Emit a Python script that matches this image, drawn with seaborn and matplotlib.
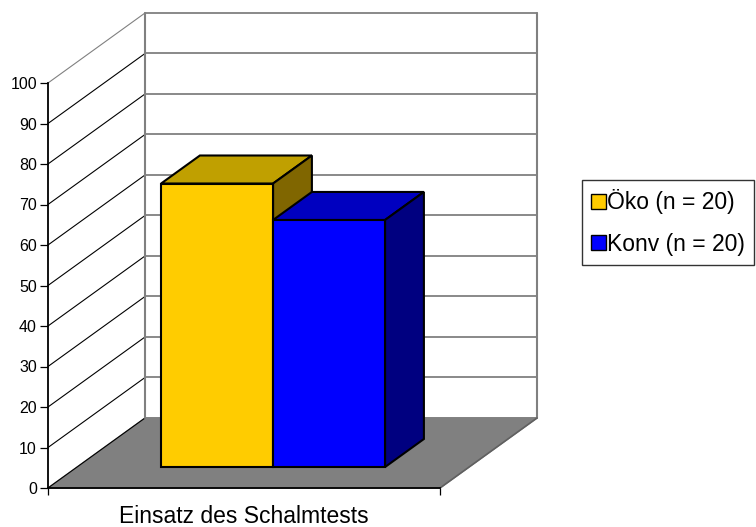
import numpy as np
import pandas as pd
import matplotlib
matplotlib.use("Agg")
import matplotlib.pyplot as plt
from matplotlib.patches import Polygon, Patch
import seaborn as sns

# data
categories = ["Einsatz des Schalmtests"]
groups = ["Öko (n = 20)", "Konv (n = 20)"]
values = [70, 61]
yticks = list(range(0, 101, 10))

front_colors = ["#FFCC00", "#0000FF"]
top_colors = ["#C0A000", "#0000C0"]
side_colors = ["#806600", "#000080"]

df = pd.DataFrame({"Einsatz": categories * len(groups), "Gruppe": groups, "Prozent": values})

sns.set_theme(style="white")
plt.rcParams["font.family"] = ["Liberation Sans", "DejaVu Sans"]
plt.rcParams["text.color"] = "black"
plt.rcParams["xtick.color"] = "black"
plt.rcParams["ytick.color"] = "black"
plt.rcParams["axes.labelcolor"] = "black"

fig = plt.figure(figsize=(7.56, 5.27), dpi=100)
ax = fig.add_axes([48 / 756, 39 / 527, 392 / 756, 405 / 527])

sns.barplot(data=df, x="Einsatz", y="Prozent", hue="Gruppe", palette=front_colors,
            saturation=1, edgecolor="black", linewidth=1.5, width=0.8, legend=False, ax=ax)

x0, x1 = -0.7, 0.7
ax.set_xlim(x0, x1)
ax.set_ylim(0, 100)
fig.canvas.draw()

# 3d depth in pixels -> data units
p0 = ax.transData.transform((0, 0))
p1 = ax.transData.transform((1, 1))
sx, sy = p1[0] - p0[0], p1[1] - p0[1]
DX, DY = 97 / sx, 70 / sy

# floor
ax.add_patch(Polygon([(x0, 0), (x1, 0), (x1 + DX, DY), (x0 + DX, DY)], closed=True,
                     facecolor="#808080", edgecolor="#808080", lw=1, zorder=1, clip_on=False))

# back wall and side wall grid
for v in yticks:
    ax.plot([x0 + DX, x1 + DX], [DY + v, DY + v], color="#808080", lw=1.3, zorder=1.5, clip_on=False)
    c = "#808080" if v == 100 else "black"
    ax.plot([x0, x0 + DX], [v, DY + v], color=c, lw=0.8, zorder=1.5, clip_on=False)
ax.plot([x0 + DX, x0 + DX], [DY, DY + 100], color="#808080", lw=1.5, zorder=1.5, clip_on=False)
ax.plot([x1 + DX, x1 + DX], [DY, DY + 100], color="#808080", lw=1.5, zorder=1.5, clip_on=False)
ax.plot([x1, x1 + DX], [0, DY], color="#606060", lw=1.2, zorder=1.5, clip_on=False)

# bars as boxes: front face sits at 30% depth, box is 40% deep
f0, fd = 0.3, 0.4
for i, bar in enumerate(ax.patches[:len(values)]):
    x, w, h = bar.get_x(), bar.get_width(), bar.get_height()
    x = x + f0 * DX
    y = f0 * DY
    bar.set_x(x)
    bar.set_y(y)
    bar.set_zorder(3 + i)
    bar.set_clip_on(False)
    top = y + h
    bx, by = fd * DX, fd * DY
    ax.add_patch(Polygon([(x, top), (x + w, top), (x + w + bx, top + by), (x + bx, top + by)],
                         closed=True, facecolor=top_colors[i], edgecolor="black", lw=1.5,
                         zorder=3 + i, clip_on=False))
    ax.add_patch(Polygon([(x + w, y), (x + w + bx, y + by), (x + w + bx, top + by), (x + w, top)],
                         closed=True, facecolor=side_colors[i], edgecolor="black", lw=1.5,
                         zorder=3 + i, clip_on=False))

# axes styling
sns.despine(ax=ax, top=True, right=True)
for s in ["left", "bottom"]:
    ax.spines[s].set_color("black")
    ax.spines[s].set_linewidth(1.3)
    ax.spines[s].set_zorder(2)
ax.set_yticks(yticks)
ax.tick_params(axis="y", direction="out", length=6, width=0.9, color="black", labelsize=11.5, pad=2,
               left=True)
ax.tick_params(axis="x", length=0, labelsize=16.5, pad=12)
ax.set_xticks([x0, x1], minor=True)
ax.tick_params(axis="x", which="minor", direction="out", length=5, width=0.9, color="black", bottom=True)
ax.set_xlabel("")
ax.set_ylabel("")
ax.set_facecolor("none")

# legend
handles = [Patch(facecolor=c, edgecolor="black", lw=1) for c in front_colors]
leg = fig.legend(handles, groups, loc="upper left", bbox_to_anchor=(582 / 756, 1 - 180 / 527),
                 fontsize=16.5, frameon=True, fancybox=False, handlelength=0.63, handleheight=0.63,
                 handletextpad=0.08, labelspacing=0.8, borderpad=0.4, borderaxespad=0)
leg.get_frame().set_edgecolor("black")
leg.get_frame().set_linewidth(1)

fig.savefig("out.png", dpi=100)
